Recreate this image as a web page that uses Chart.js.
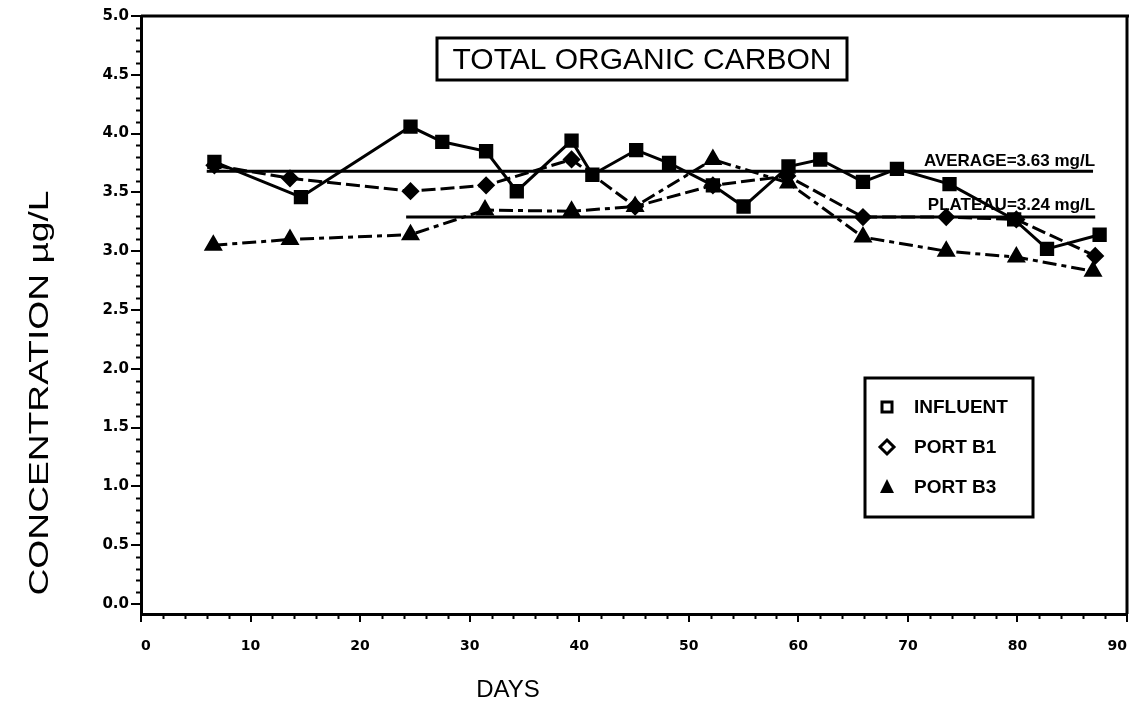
<!DOCTYPE html>
<html>
<head>
<meta charset="utf-8">
<script src="https://cdn.jsdelivr.net/npm/chart.js@4.4.1/dist/chart.umd.min.js"></script>
<style>
  html, body { margin: 0; padding: 0; background: #fff; }
  #wrap { width: 1129px; height: 707px; position: relative; }
</style>
</head>
<body>
<div id="wrap"><canvas id="c" width="1129" height="707"></canvas></div>
<script>
// ---------- data ----------
const influentDays   = [6.7, 14.6, 24.6, 27.5, 31.5, 34.3, 39.3, 41.2, 45.2, 48.2, 52.2, 55.0, 59.1, 62.0, 65.9, 69.0, 73.8, 79.7, 82.7, 87.5];
const influentValues = [3.76, 3.46, 4.06, 3.93, 3.85, 3.51, 3.94, 3.65, 3.86, 3.75, 3.56, 3.38, 3.72, 3.78, 3.59, 3.70, 3.57, 3.27, 3.02, 3.14];

const portB1Days   = [6.7, 13.6, 24.6, 31.5, 39.3, 45.1, 52.2, 59.0, 65.9, 73.5, 79.9, 87.1];
const portB1Values = [3.73, 3.62, 3.51, 3.56, 3.78, 3.38, 3.56, 3.64, 3.29, 3.29, 3.27, 2.96];

const portB3Days   = [6.6, 13.6, 24.6, 31.4, 39.3, 45.1, 52.2, 59.1, 65.9, 73.5, 79.9, 86.9];
const portB3Values = [3.05, 3.10, 3.14, 3.35, 3.34, 3.38, 3.78, 3.58, 3.12, 3.00, 2.95, 2.83];

const averageDays   = [6.0, 86.9];
const averageValues = [3.68, 3.68];
const plateauDays   = [24.2, 87.1];
const plateauValues = [3.29, 3.29];

const averageLabel = 'AVERAGE=3.63 mg/L';
const plateauLabel = 'PLATEAU=3.24 mg/L';

const seriesNames = ['INFLUENT', 'PORT B1', 'PORT B3'];
const chartTitle = 'TOTAL ORGANIC CARBON';
const xTitle = 'DAYS';
const yTitle = 'CONCENTRATION µg/L';

const xTickValues = [0, 10, 20, 30, 40, 50, 60, 70, 80, 90];
const yTickValues = [0, 0.5, 1.0, 1.5, 2.0, 2.5, 3.0, 3.5, 4.0, 4.5, 5.0];

// ---------- helpers ----------
const pts = (xs, ys) => xs.map((x, i) => ({ x: x, y: ys[i] }));
const INK = '#000';

const decorPlugin = {
  id: 'decor',
  afterDraw(chart) {
    const ctx = chart.ctx;
    const a = chart.chartArea;
    const xs = chart.scales.x, ys = chart.scales.y;
    ctx.save();
    ctx.strokeStyle = INK; ctx.fillStyle = INK;

    // top & right frame
    ctx.lineWidth = 3;
    ctx.beginPath();
    ctx.moveTo(a.left, a.top); ctx.lineTo(1129, a.top);
    ctx.moveTo(a.right, a.top); ctx.lineTo(a.right, a.bottom);
    ctx.stroke();

    // minor ticks
    ctx.lineWidth = 2;
    ctx.beginPath();
    for (let k = 1; k < 50; k++) {
      if (k % 5 === 0) continue;
      const y = Math.round(ys.getPixelForValue(k / 10)) + 0.5;
      ctx.moveTo(a.left - 5, y); ctx.lineTo(a.left, y);
    }
    for (let d = 2; d < 90; d += 2) {
      if (d % 10 === 0) continue;
      const x = Math.round(xs.getPixelForValue(d)) + 0.5;
      ctx.moveTo(x, a.bottom); ctx.lineTo(x, a.bottom + 5);
    }
    ctx.stroke();

    // reference-line labels
    ctx.font = 'bold 17px "Liberation Sans", Arial, sans-serif';
    ctx.textAlign = 'right'; ctx.textBaseline = 'alphabetic';
    ctx.fillText(averageLabel, xs.getPixelForValue(averageDays[1]) + 2, ys.getPixelForValue(averageValues[0]) - 5);
    ctx.fillText(plateauLabel, xs.getPixelForValue(plateauDays[1]), ys.getPixelForValue(plateauValues[0]) - 7);

    // title box
    ctx.lineWidth = 3;
    ctx.strokeRect(437, 38, 410, 42);
    ctx.font = '30px "Liberation Sans", Arial, sans-serif';
    ctx.textAlign = 'center'; ctx.textBaseline = 'middle';
    ctx.fillText(chartTitle, 642, 61);

    // legend box
    ctx.strokeRect(865, 378, 168, 139);
    const rows = [407, 447, 487];
    ctx.font = 'bold 19px "Liberation Sans", Arial, sans-serif';
    ctx.textAlign = 'left'; ctx.textBaseline = 'middle';
    rows.forEach((ry, i) => ctx.fillText(seriesNames[i], 914, ry + 1));
    const mx = 887;
    ctx.lineWidth = 3;
    ctx.strokeRect(mx - 5, rows[0] - 5, 10, 10);
    ctx.beginPath();
    ctx.moveTo(mx, rows[1] - 7); ctx.lineTo(mx + 7, rows[1]); ctx.lineTo(mx, rows[1] + 7); ctx.lineTo(mx - 7, rows[1]); ctx.closePath();
    ctx.stroke();
    ctx.beginPath();
    ctx.moveTo(mx, rows[2] - 8); ctx.lineTo(mx + 7, rows[2] + 6); ctx.lineTo(mx - 7, rows[2] + 6); ctx.closePath();
    ctx.fill();

    // axis titles
    ctx.font = '28px "Liberation Sans", Arial, sans-serif';
    ctx.textAlign = 'center'; ctx.textBaseline = 'middle';
    ctx.save();
    ctx.translate(40, 393);
    ctx.rotate(-Math.PI / 2);
    const w = ctx.measureText(yTitle).width;
    ctx.scale(405 / w, 1);
    ctx.fillText(yTitle, 0, 0);
    ctx.restore();

    ctx.font = '24px "Liberation Sans", Arial, sans-serif';
    ctx.fillText(xTitle, 508, 690);
    ctx.restore();
  }
};

new Chart(document.getElementById('c'), {
  type: 'scatter',
  data: {
    datasets: [
      { label: 'AVERAGE', data: pts(averageDays, averageValues), showLine: true, borderColor: INK, borderWidth: 3, pointRadius: 0 },
      { label: 'PLATEAU', data: pts(plateauDays, plateauValues), showLine: true, borderColor: INK, borderWidth: 3, pointRadius: 0 },
      { label: seriesNames[0], data: pts(influentDays, influentValues), showLine: true, borderColor: INK, borderWidth: 3,
        pointStyle: 'rect', pointRadius: 8, backgroundColor: INK, pointBorderColor: INK },
      { label: seriesNames[1], data: pts(portB1Days, portB1Values), showLine: true, borderColor: INK, borderWidth: 3,
        borderDash: [14, 5], pointStyle: 'rectRot', pointRadius: 7, backgroundColor: INK, pointBorderColor: INK },
      { label: seriesNames[2], data: pts(portB3Days, portB3Values), showLine: true, borderColor: INK, borderWidth: 3,
        borderDash: [14, 5, 5, 5], pointStyle: 'triangle', pointRadius: 8, backgroundColor: INK, pointBorderColor: INK }
    ]
  },
  options: {
    responsive: false,
    animation: false,
    devicePixelRatio: 1,
    layout: { autoPadding: false, padding: { top: 16, right: 2, left: 0, bottom: 0 } },
    plugins: { legend: { display: false }, tooltip: { enabled: false }, title: { display: false } },
    scales: {
      x: {
        type: 'linear', min: 0, max: 90,
        afterFit(s) { s.height = 93; s.paddingLeft = 0; s.paddingRight = 0; },
        afterBuildTicks(s) { s.ticks = xTickValues.map(v => ({ value: v })); },
        ticks: { font: { family: '"DejaVu Sans", sans-serif', weight: 'bold', size: 14 }, color: INK, padding: 16, maxRotation: 0,
                 autoSkip: false, align: 'inner', callback: v => String(v) },
        grid: { display: true, drawOnChartArea: false, drawTicks: true, tickLength: 8, color: INK, lineWidth: 2 },
        border: { display: true, color: INK, width: 3 }
      },
      y: {
        type: 'linear', min: -0.085, max: 5.0,
        afterFit(s) { s.width = 141; s.paddingTop = 0; s.paddingBottom = 0; },
        afterBuildTicks(s) { s.ticks = yTickValues.map(v => ({ value: v })); },
        ticks: { font: { family: '"DejaVu Sans", sans-serif', weight: 'bold', size: 15 }, color: INK, padding: 2, autoSkip: false,
                 callback: v => Number(v).toFixed(1) },
        grid: { display: true, drawOnChartArea: false, drawTicks: true, tickLength: 10, color: INK, lineWidth: 2 },
        border: { display: true, color: INK, width: 3 }
      }
    }
  },
  plugins: [decorPlugin]
});
</script>
</body>
</html>
